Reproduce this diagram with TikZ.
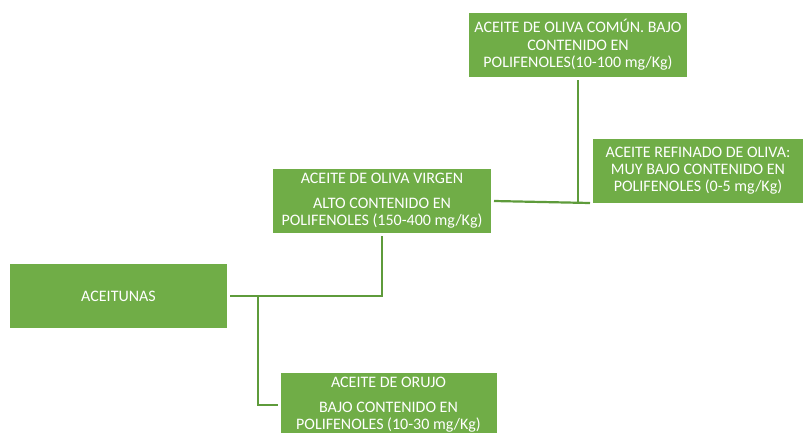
\documentclass[tikz,border=0pt]{standalone}
\usepackage{fontspec}
\setmainfont{Carlito}
\definecolor{boxg}{HTML}{70AD47}
\definecolor{lineg}{HTML}{5E9B3B}
\begin{document}
\begin{tikzpicture}[x=1pt,y=-1pt,
  gbox/.style={draw=none,fill=boxg,text=white,inner sep=0pt,outer sep=3pt,align=center,
    font=\fontsize{16}{17.5}\selectfont},
  conn/.style={draw=lineg,line width=2.2pt}]
\useasboundingbox (0,0) rectangle (803,432);
\clip (0,0) rectangle (803,432);
\node[gbox,minimum width=217,minimum height=64] (acei) at (118.5,296) {ACEITUNAS};
\node[gbox,minimum width=218,minimum height=64] (virg) at (382,201)
  {ACEITE DE OLIVA VIRGEN\\[7pt]ALTO CONTENIDO EN\\POLIFENOLES (150-400 mg/Kg)};
\node[gbox,minimum width=218,minimum height=64] (top) at (578,45)
  {ACEITE DE OLIVA COMÚN. BAJO\\CONTENIDO EN\\POLIFENOLES(10-100 mg/Kg)};
\node[gbox,minimum width=210,minimum height=64,font=\fontsize{16}{17}\selectfont] (ref) at (698,171)
  {ACEITE REFINADO DE OLIVA:\\MUY BAJO CONTENIDO EN\\POLIFENOLES (0-5 mg/Kg)};
\node[gbox,minimum width=216,minimum height=64] (oru) at (388.5,405)
  {ACEITE DE ORUJO\\[7pt]BAJO CONTENIDO EN\\POLIFENOLES (10-30 mg/Kg)};
\coordinate (br) at (258,296);
\coordinate (j) at (590,203);
\draw[conn] (acei.east) -| (virg.south);
\draw[conn] (br) |- (oru.west);
\draw[conn] (virg.east) -- (j);
\draw[conn] (top.south) -- (top.south |- j);
\end{tikzpicture}
\end{document}
